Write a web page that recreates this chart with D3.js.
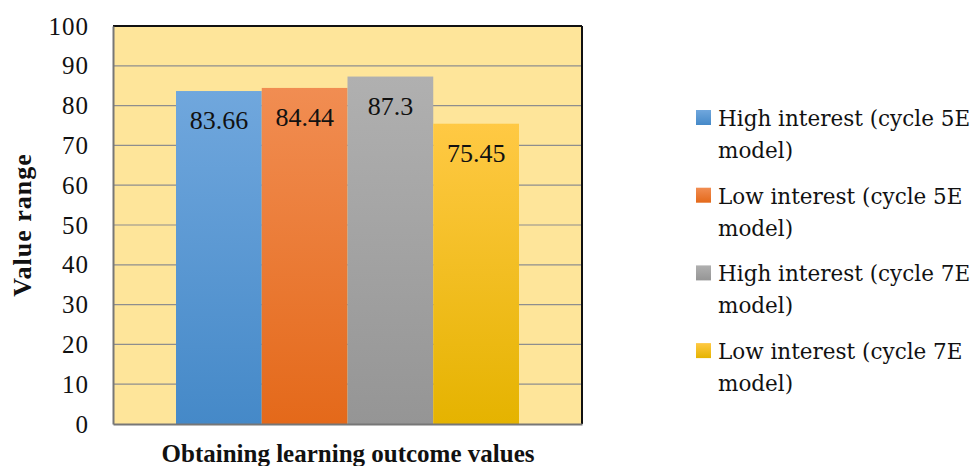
<!DOCTYPE html>
<html><head><meta charset="utf-8">
<script src="https://cdn.jsdelivr.net/npm/d3@7"></script>
<style>body{margin:0;background:#fff;} svg{display:block;}</style>
</head><body>
<svg id="chart" width="976" height="466"></svg>
<script>
const seriesNames = ["High interest (cycle 5E model)", "Low interest (cycle 5E model)", "High interest (cycle 7E model)", "Low interest (cycle 7E model)"];
const legendLines = [["High interest (cycle 5E", "model)"], ["Low interest (cycle 5E", "model)"], ["High interest (cycle 7E", "model)"], ["Low interest (cycle 7E", "model)"]];
const values = [83.66, 84.44, 87.3, 75.45];
const valueLabels = ["83.66", "84.44", "87.3", "75.45"];
const category = ["Obtaining learning outcome values"];
const yTicks = [0, 10, 20, 30, 40, 50, 60, 70, 80, 90, 100];
const colorsTop = ["#70a7dd", "#f18d52", "#b0b0b0", "#ffc944"];
const colorsBot = ["#4589c8", "#e4691a", "#959595", "#e5b300"];

const svg = d3.select("#chart");
const font = "'Liberation Serif', serif";
const font2 = "'DejaVu Serif', serif";
const pL = 113, pR = 582, pT = 26, pB = 424;

const defs = svg.append("defs");
colorsTop.forEach((c, i) => {
  const g = defs.append("linearGradient").attr("id", "g" + i).attr("x1", 0).attr("y1", 0).attr("x2", 0).attr("y2", 1);
  g.append("stop").attr("offset", "0%").attr("stop-color", c);
  g.append("stop").attr("offset", "100%").attr("stop-color", colorsBot[i]);
});

const y = d3.scaleLinear().domain([0, 100]).range([pB, pT]);
const x0 = d3.scaleBand().domain(category).range([pL, pR]).paddingInner(0).paddingOuter(0);
const x1 = d3.scaleBand().domain(seriesNames).range([x0(category[0]) + 63, x0(category[0]) + x0.bandwidth() - 63]).padding(0);

svg.append("rect").attr("x", pL).attr("y", pT).attr("width", pR - pL).attr("height", pB - pT).attr("fill", "#fee59a");

svg.append("g").selectAll("line").data(yTicks.filter(t => t > 0 && t < 100)).join("line")
  .attr("x1", pL).attr("x2", pR).attr("y1", d => y(d)).attr("y2", d => y(d))
  .attr("stroke", "#8e8e8e").attr("stroke-width", 1.2);

svg.append("g").selectAll("rect").data(values).join("rect")
  .attr("x", (d, i) => x1(seriesNames[i])).attr("width", x1.bandwidth())
  .attr("y", d => y(d)).attr("height", d => pB - y(d))
  .attr("fill", (d, i) => `url(#g${i})`);

svg.append("g").selectAll("text").data(values).join("text")
  .attr("x", (d, i) => x1(seriesNames[i]) + x1.bandwidth() / 2)
  .attr("y", d => y(d) + 38)
  .attr("text-anchor", "middle").attr("font-family", font).attr("font-size", 26).attr("fill", "#111")
  .text((d, i) => valueLabels[i]);

svg.append("line").attr("x1", pL).attr("x2", pR).attr("y1", pT).attr("y2", pT).attr("stroke", "#111").attr("stroke-width", 2);
svg.append("line").attr("x1", pR).attr("x2", pR).attr("y1", pT).attr("y2", pB).attr("stroke", "#111").attr("stroke-width", 2);

const yAxis = svg.append("g").attr("transform", `translate(${pL},0)`)
  .call(d3.axisLeft(y).tickValues(yTicks).tickSize(0).tickPadding(24));
yAxis.select(".domain").attr("stroke", "#777").attr("stroke-width", 2);
yAxis.selectAll("text").attr("font-family", font).attr("font-size", 25).attr("letter-spacing", 1).attr("fill", "#111");

const xAxis = svg.append("g").attr("transform", `translate(0,${pB})`)
  .call(d3.axisBottom(x0).tickSize(0).tickFormat(""));
xAxis.select(".domain").attr("stroke", "#777").attr("stroke-width", 2);

svg.append("text").attr("x", 348).attr("y", 462).attr("text-anchor", "middle")
  .attr("font-family", font).attr("font-weight", "bold").attr("font-size", 25).attr("fill", "#111")
  .text(category[0]);

svg.append("text").attr("transform", "translate(31,225) rotate(-90)").attr("text-anchor", "middle")
  .attr("font-family", font).attr("font-weight", "bold").attr("font-size", 26).attr("letter-spacing", 1).attr("fill", "#111")
  .text("Value range");

const leg = svg.append("g").selectAll("g").data(legendLines).join("g")
  .attr("transform", (d, i) => `translate(696,${118 + i * 77.7})`);
leg.append("rect").attr("x", 0).attr("y", -8).attr("width", 15).attr("height", 15)
  .attr("fill", (d, i) => `url(#g${i})`);
leg.each(function(d) {
  const t = d3.select(this).append("text").attr("font-family", font2).attr("font-size", 21.5).attr("fill", "#111");
  d.forEach((line, j) => t.append("tspan").attr("x", 22).attr("y", 8 + j * 32).text(line));
});
</script>
</body></html>
